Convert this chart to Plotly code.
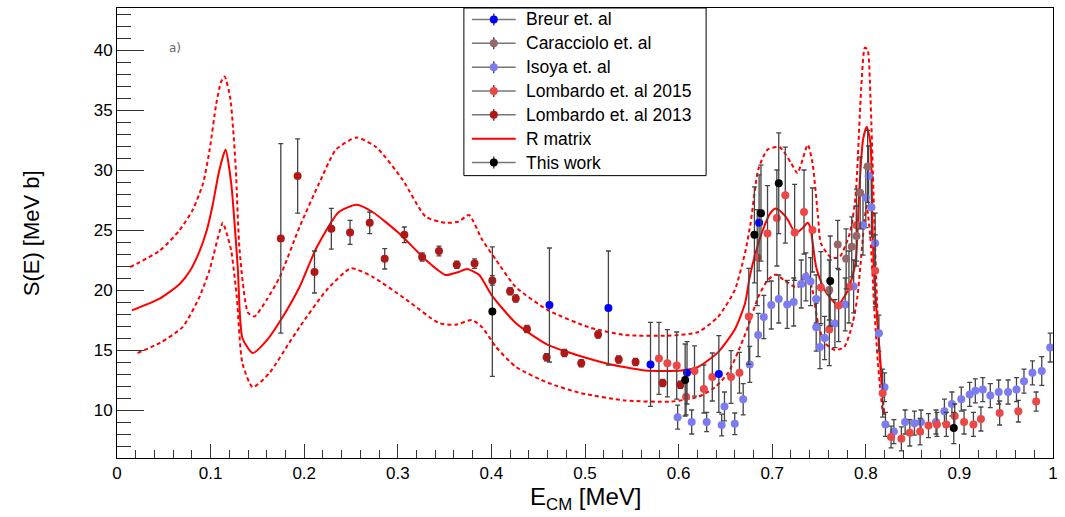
import plotly.graph_objects as go

# ---------------- data ----------------
# Lombardo et al 2013
x_l13 = [0.175,0.193,0.211,0.229,0.249,0.270,0.286,0.307,0.326,0.344,0.363,0.382,0.401,0.420,0.426,0.438,0.459,0.478,0.496,0.514,0.536,0.554,0.583,0.602]
y_l13 = [24.3,29.5,21.5,25.1,24.8,25.6,22.6,24.6,22.75,23.25,22.1,22.2,20.8,19.9,19.3,16.75,14.4,14.75,13.9,16.3,14.2,14.0,12.25,12.1]
e_l13 = [7.9,3.1,1.75,1.7,1.0,0.9,0.85,0.65,0.35,0.4,0.3,0.4,0.4,0.3,0.3,0.3,0.3,0.3,0.3,0.3,0.3,0.3,0.3,0.3]

# This work
x_tw = [0.401,0.607,0.681,0.688,0.707,0.762,0.894]
y_tw = [18.2,12.5,24.6,26.4,28.9,20.75,8.5]
e_tw = [5.4,3.0,4.0,4.0,4.2,3.75,1.3]

# Breur et al
x_br = [0.462,0.525,0.570,0.609,0.643,0.686]
y_br = [18.75,18.5,13.8,13.1,13.0,25.6]
e_br = [4.75,4.75,3.5,2.6,3.2,4.0]

# Caracciolo et al
x_ca = [0.761,0.770,0.779,0.785,0.790,0.794,0.802]
y_ca = [20.0,23.8,22.6,23.6,24.5,28.1,30.3]
e_ca = [2.5,2.0,2.5,2.5,2.5,3.0,3.0]

# Isoya et al
x_is = [0.599,0.614,0.630,0.646,0.649,0.660,0.669,0.676,0.685,0.691,0.699,0.707,0.716,0.723,0.731,0.736,0.741,0.747,0.747,0.751,
        0.756,0.767,0.778,0.787,0.797,0.800,0.803,0.806,0.810,0.814,0.820,0.821,0.830,0.842,0.852,0.859,0.875,0.884,0.892,0.902,
        0.911,0.917,0.925,0.933,0.942,0.952,0.961,0.969,0.978,0.988,0.997]
y_is = [9.4,9.0,9.0,8.75,10.3,8.85,10.9,13.8,16.25,17.75,18.75,19.25,18.8,19.0,20.5,21.1,20.7,19.25,16.9,15.25,
        16.0,17.2,18.8,20.3,25.4,27.7,29.5,26.9,23.9,16.4,11.9,8.8,8.2,9.0,8.9,9.0,9.0,9.9,10.5,10.9,
        11.3,11.6,11.7,11.2,11.5,11.5,11.7,12.4,13.1,13.25,15.2]
e_is = [1.0,1.0,0.8,0.9,1.2,0.9,1.3,1.5,1.8,1.8,2.0,2.0,2.0,2.0,2.0,2.0,2.0,2.0,2.0,1.8,
        1.8,2.0,2.2,2.2,2.5,2.5,2.5,2.5,2.5,1.5,1.2,1.0,1.0,1.0,1.0,1.0,1.0,1.0,1.0,1.0,
        1.0,1.0,1.0,1.0,1.0,1.0,1.0,1.0,1.0,1.2,1.2]

# Lombardo et al 2015
x_l15 = [0.579,0.588,0.598,0.608,0.617,0.627,0.636,0.656,0.665,0.675,0.684,0.695,0.705,0.714,0.724,0.734,0.743,0.752,0.761,0.771,
         0.782,0.790,0.810,0.818,0.827,0.838,0.847,0.858,0.867,0.876,0.886,0.895,0.905,0.915,0.923,0.943,0.963,0.982]
y_l15 = [14.3,13.9,13.7,11.1,13.25,11.75,12.75,12.75,13.1,17.8,22.7,24.7,26.0,27.9,24.8,26.5,25.0,20.2,16.7,18.7,
         20.25,25.4,21.6,11.4,7.75,7.6,8.1,8.2,8.7,8.8,8.8,9.5,9.0,8.8,9.25,9.75,9.9,10.7]
e_l15 = [3.0,2.8,2.8,1.5,2.1,2.0,2.0,2.2,1.7,4.0,4.0,4.0,4.0,4.0,4.0,3.5,3.5,3.0,3.0,3.0,
         3.0,3.0,3.0,2.0,0.9,1.0,1.1,1.1,1.0,1.0,1.0,1.0,1.0,1.0,1.0,1.0,0.9,0.8]

# R matrix central curve
x_rm = [0.016,0.046,0.067,0.078,0.088,0.096,0.102,0.108,0.112,0.116,0.122,0.129,0.134,0.145,0.160,0.177,0.195,0.213,0.237,0.256,
        0.273,0.301,0.330,0.351,0.365,0.374,0.387,0.400,0.426,0.461,0.522,0.564,0.603,0.621,0.642,0.660,0.671,0.676,0.683,0.690,
        0.698,0.704,0.713,0.717,0.725,0.733,0.738,0.741,0.747,0.756,0.770,0.781,0.789,0.793,0.797,0.801,0.805,0.807,0.809,0.813,
        0.816,0.818]
y_rm = [18.3,19.3,20.5,21.6,23.2,25.0,27.0,29.5,30.8,31.7,28.9,21.9,16.0,14.75,15.8,17.75,20.25,23.5,26.5,27.1,
        26.5,24.75,22.5,21.25,21.5,21.75,21.25,19.6,17.25,15.4,13.9,13.3,13.3,13.6,14.8,16.7,18.9,21.1,23.3,25.0,
        26.4,26.8,26.25,25.8,24.75,25.2,25.6,25.1,21.9,20.0,18.75,20.0,22.25,28.3,32.5,33.6,32.25,25.6,21.1,16.7,
        13.6,11.1]

# R matrix upper band
x_up = [0.014,0.046,0.067,0.081,0.092,0.099,0.106,0.111,0.115,0.121,0.124,0.127,0.131,0.140,0.147,0.160,0.174,0.195,0.216,0.234,
        0.256,0.277,0.305,0.330,0.351,0.365,0.376,0.390,0.405,0.426,0.461,0.504,0.543,0.592,0.621,0.642,0.660,0.671,0.677,0.685,
        0.695,0.708,0.720,0.727,0.738,0.743,0.749,0.752,0.763,0.772,0.783,0.789,0.795,0.799,0.802,0.805,0.809,0.813,0.818,0.820]
y_up = [21.9,23.3,25.0,26.7,28.9,31.7,35.5,37.3,37.8,36.0,33.5,30.0,23.3,18.1,17.8,19.2,21.1,25.25,28.9,31.7,
        32.7,31.9,29.2,26.1,25.6,25.7,26.25,24.2,22.5,20.25,18.3,16.9,16.25,16.2,16.5,17.75,20.0,23.1,25.6,30.0,
        31.7,31.9,30.6,29.75,32.1,30.6,26.1,23.9,22.7,22.75,24.75,27.75,36.7,40.2,40.0,36.0,26.0,17.0,11.0,9.6]

# R matrix lower band
x_lo = [0.022,0.046,0.070,0.088,0.099,0.113,0.117,0.122,0.128,0.134,0.145,0.163,0.184,0.195,0.224,0.250,0.273,0.309,0.344,0.362,
        0.379,0.390,0.405,0.426,0.461,0.496,0.543,0.592,0.621,0.639,0.653,0.663,0.674,0.685,0.695,0.704,0.713,0.727,0.737,0.743,
        0.749,0.756,0.767,0.777,0.786,0.791,0.799,0.801,0.805,0.809,0.813,0.818,0.820]
y_lo = [14.75,15.6,16.9,19.4,21.7,25.6,24.75,23.3,19.4,13.9,11.9,13.1,15.6,16.9,20.0,21.8,21.1,19.2,17.25,17.1,
        17.5,16.9,15.25,13.6,12.25,11.4,10.8,10.7,11.1,11.9,13.1,14.75,16.9,19.4,20.8,21.3,20.8,20.2,21.4,20.0,
        17.25,15.6,15.0,15.25,17.25,19.4,26.1,27.0,24.2,18.6,13.9,10.0,9.6]

x_ticks = [0, 0.1, 0.2, 0.3, 0.4, 0.5, 0.6, 0.7, 0.8, 0.9, 1]
x_ticklabels = ["0", "0.1", "0.2", "0.3", "0.4", "0.5", "0.6", "0.7", "0.8", "0.9", "1"]
y_ticks = [10, 15, 20, 25, 30, 35, 40]

legend_names = ["Breur et. al", "Caracciolo et. al", "Isoya et. al", "Lombardo et. al 2015",
                "Lombardo et. al 2013", "R matrix", "This work"]

# ---------------- styles ----------------
RED = "#ff0000"
ERRC = "#444444"
COLORS = {
    "Breur et. al": "#0000ff",
    "Caracciolo et. al": "#946868",
    "Isoya et. al": "#7b7bf2",
    "Lombardo et. al 2015": "#ec4646",
    "Lombardo et. al 2013": "#b01818",
    "This work": "#000000",
}
series = {
    "Breur et. al": (x_br, y_br, e_br),
    "Caracciolo et. al": (x_ca, y_ca, e_ca),
    "Isoya et. al": (x_is, y_is, e_is),
    "Lombardo et. al 2015": (x_l15, y_l15, e_l15),
    "Lombardo et. al 2013": (x_l13, y_l13, e_l13),
    "This work": (x_tw, y_tw, e_tw),
}

fig = go.Figure()

DASH = "4px,3px"
fig.add_trace(go.Scatter(x=x_up, y=y_up, mode="lines", line=dict(color=RED, width=2, dash=DASH, shape="spline", smoothing=0.6),
                         showlegend=False, hoverinfo="skip"))
fig.add_trace(go.Scatter(x=x_lo, y=y_lo, mode="lines", line=dict(color=RED, width=2, dash=DASH, shape="spline", smoothing=0.6),
                         showlegend=False, hoverinfo="skip"))
fig.add_trace(go.Scatter(x=x_rm, y=y_rm, mode="lines", name="R matrix",
                         line=dict(color=RED, width=2, shape="spline", smoothing=0.6), showlegend=False))

for name in ["Isoya et. al", "Lombardo et. al 2015", "Lombardo et. al 2013", "Caracciolo et. al", "Breur et. al", "This work"]:
    xs, ys, es = series[name]
    fig.add_trace(go.Scatter(x=xs, y=ys, mode="markers", name=name, showlegend=False,
                             marker=dict(color=COLORS[name], size=8),
                             error_y=dict(type="data", array=es, color=ERRC, thickness=1.3, width=2.5)))

# ---------------- manual ROOT-style legend ----------------
X0, X1, T, B = 117, 1056, 7, 458
def px(p):
    return (p - X0) / (X1 - X0)
def py(p):
    return (B - p) / (B - T)

shapes = [dict(type="rect", xref="paper", yref="paper", x0=px(465), x1=px(708), y0=py(175), y1=py(7),
               line=dict(color="black", width=1), fillcolor="white", layer="above")]
annotations = []
row0, drow = 18.5, 23.9
for i, name in enumerate(legend_names):
    yc = row0 + i * drow
    if name == "R matrix":
        shapes.append(dict(type="line", xref="paper", yref="paper", x0=px(473), x1=px(517), y0=py(yc), y1=py(yc),
                           line=dict(color=RED, width=2), layer="above"))
    else:
        shapes.append(dict(type="line", xref="paper", yref="paper", x0=px(473), x1=px(517), y0=py(yc), y1=py(yc),
                           line=dict(color="#777777", width=1.5), layer="above"))
        shapes.append(dict(type="line", xref="paper", yref="paper", x0=px(495), x1=px(495), y0=py(yc - 6), y1=py(yc + 6),
                           line=dict(color="#222222", width=1.2), layer="above"))
        shapes.append(dict(type="circle", xref="paper", yref="paper", xsizemode="pixel", ysizemode="pixel",
                           xanchor=px(495), yanchor=py(yc), x0=-4, x1=4, y0=-4, y1=4,
                           fillcolor=COLORS[name], line=dict(width=0), layer="above"))
    annotations.append(dict(text=name, xref="paper", yref="paper", x=px(525), y=py(yc), xanchor="left",
                            yanchor="middle", showarrow=False, font=dict(size=17.5)))

FONT = "Liberation Sans, Arial, sans-serif"
annotations += [
    dict(text="S(E) [MeV b]", xref="paper", yref="paper", x=px(31), y=0.5, xanchor="center", yanchor="middle",
         textangle=-90, showarrow=False, font=dict(size=22, family=FONT)),
    dict(text="E<sub>CM</sub> [MeV]", xref="paper", yref="paper", x=0.5, y=py(499), xanchor="center", yanchor="middle",
         showarrow=False, font=dict(size=24, family=FONT)),
    dict(text="a)", xref="paper", yref="paper", x=px(175), y=py(47), xanchor="center", yanchor="middle",
         showarrow=False, font=dict(size=12, family="DejaVu Sans", color="#666666")),
]

fig.update_layout(
    width=1065, height=517,
    margin=dict(l=117, r=9, t=7, b=59),
    paper_bgcolor="white", plot_bgcolor="white",
    font=dict(family=FONT, color="black", size=17),
    showlegend=False,
    shapes=shapes,
    annotations=annotations,
    xaxis=dict(range=[0, 1], tickvals=x_ticks, ticktext=x_ticklabels, ticks="inside", ticklen=14,
               tickcolor="#333", showgrid=False, zeroline=False, showline=True, linecolor="black",
               linewidth=1, mirror=True, tickfont=dict(size=17),
               minor=dict(dtick=0.02, ticks="inside", ticklen=8, tickcolor="#333", showgrid=False)),
    yaxis=dict(range=[6, 43.5], tickvals=y_ticks, ticks="inside", ticklen=27,
               tickcolor="#333", showgrid=False, zeroline=False, showline=True, linecolor="black",
               linewidth=1, mirror=True, tickfont=dict(size=17),
               minor=dict(dtick=1, ticks="inside", ticklen=14, tickcolor="#333", showgrid=False)),
)

fig.write_html("out.html", config={"displayModeBar": False},
               post_script="document.body.style.margin='0';")
